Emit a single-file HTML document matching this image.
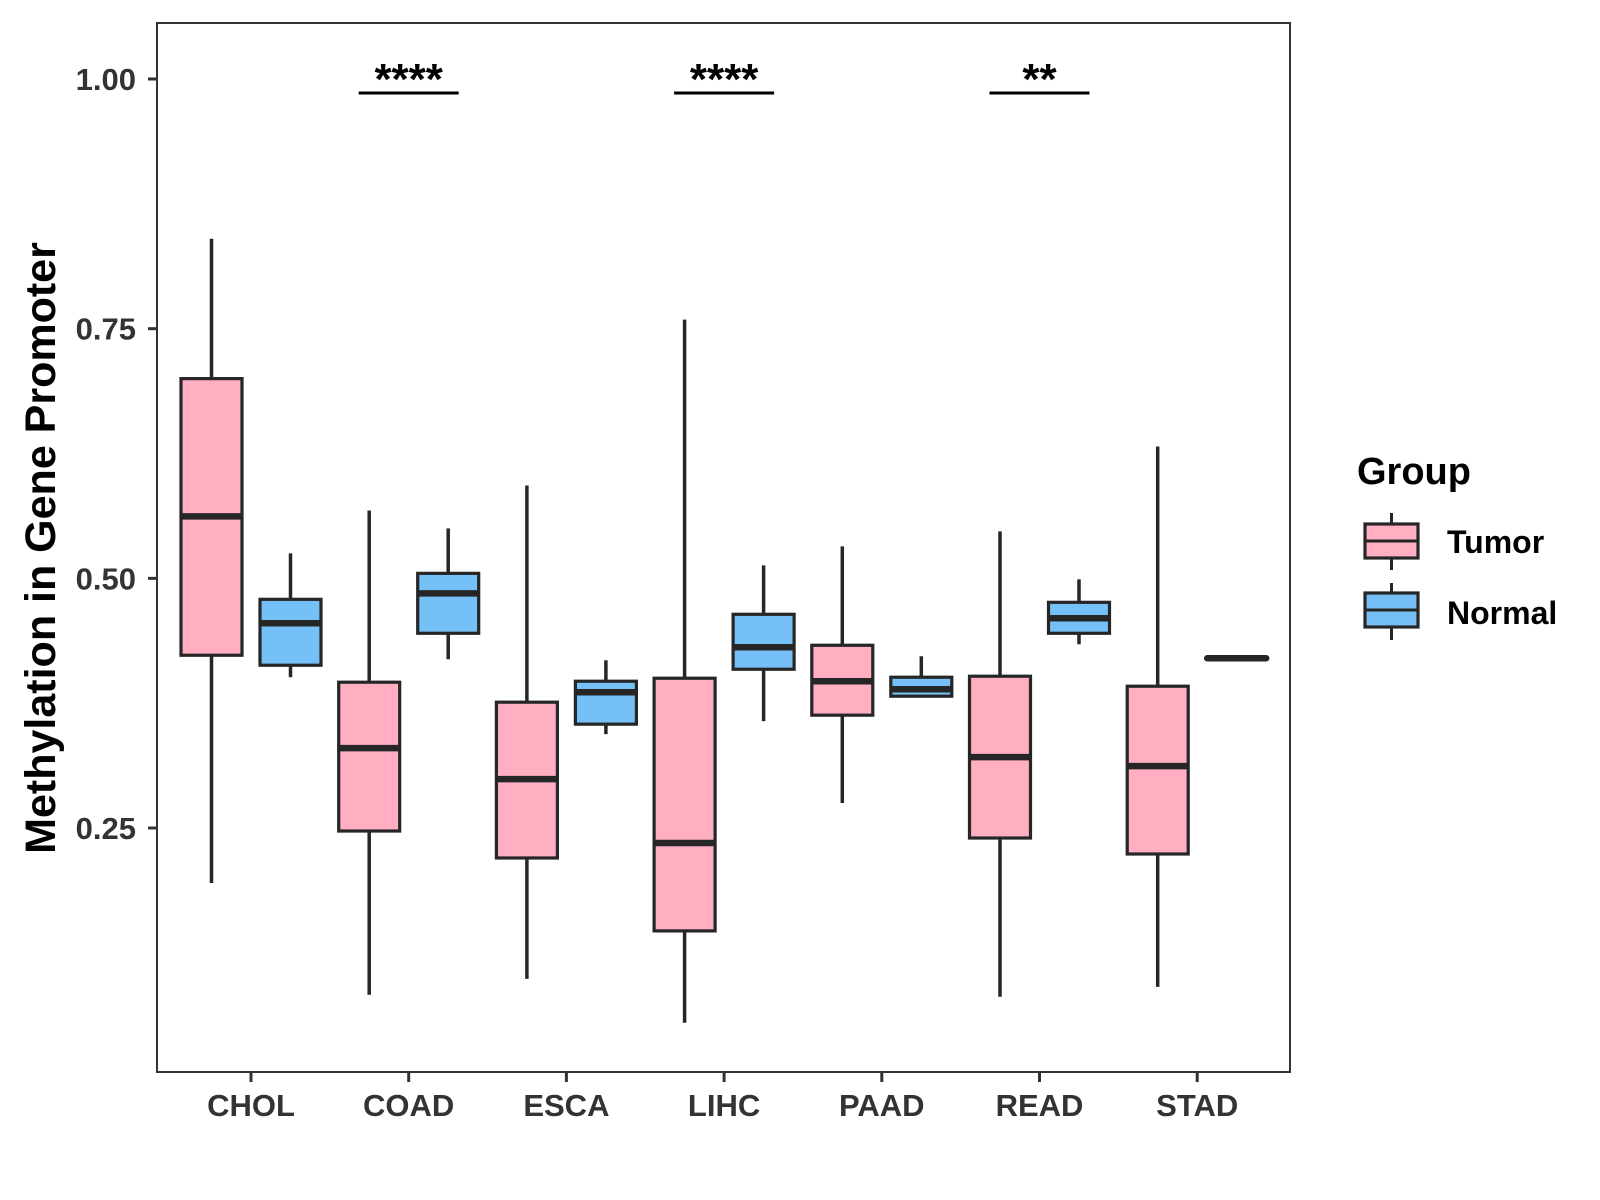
<!DOCTYPE html>
<html><head><meta charset="utf-8"><style>
body{margin:0;background:#fff}
svg{display:block;font-family:"Liberation Sans",Arial,sans-serif}
</style></head><body>
<svg id="chart" width="1600" height="1200" viewBox="0 0 1600 1200">
<rect x="0" y="0" width="1600" height="1200" fill="#fff"/>
<g id="marks"></g>
</svg>
<script>
const categories = ["CHOL","COAD","ESCA","LIHC","PAAD","READ","STAD"];
const tumorLow    = [0.195,0.083,0.099,0.055,0.275,0.081,0.091];
const tumorQ1     = [0.423,0.247,0.220,0.147,0.363,0.240,0.224];
const tumorMedian = [0.562,0.330,0.299,0.235,0.397,0.321,0.312];
const tumorQ3     = [0.700,0.396,0.376,0.400,0.433,0.402,0.392];
const tumorHigh   = [0.840,0.568,0.593,0.759,0.532,0.547,0.632];
const normalLow    = [0.401,0.419,0.344,0.357,0.382,0.434,0.420];
const normalQ1     = [0.413,0.445,0.354,0.409,0.382,0.445,0.420];
const normalMedian = [0.455,0.485,0.386,0.431,0.389,0.460,0.420];
const normalQ3     = [0.479,0.505,0.397,0.464,0.401,0.476,0.420];
const normalHigh   = [0.525,0.550,0.418,0.513,0.422,0.499,0.420];
const yTicks = [0.25,0.50,0.75,1.00];
const yTickLabels = ["0.25","0.50","0.75","1.00"];
const sigCategories = ["COAD","LIHC","READ"];
const sigLabels = ["****","****","**"];
const sigLevel = 0.987;

const L=157,R=1290,T=23,B=1072;
const x0=251, step=157.7;
const xScale = i => x0 + i*step;
const yScale = v => 79 + (1-v)*998.7;
const NS="http://www.w3.org/2000/svg";
const g=document.getElementById("marks");
function mk(tag,attrs,parent){const e=document.createElementNS(NS,tag);for(const k in attrs)e.setAttribute(k,attrs[k]);(parent||g).appendChild(e);return e;}

const panel=mk("rect",{x:L,y:T,width:R-L,height:B-T,fill:"none",stroke:"#333",'stroke-width':2});



yTicks.forEach((v,i)=>{
  const y=yScale(v);
  const t=mk("line",{x1:L-9,x2:L,y1:y,y2:y,stroke:"#333",'stroke-width':3});
  
  
  const tx=mk("text",{x:L-21,y:y+11,'text-anchor':'end','font-size':31,'font-weight':'bold',fill:'#333'});
  tx.textContent=yTickLabels[i];
  
  
});
categories.forEach((c,i)=>{
  const x=xScale(i);
  const t=mk("line",{x1:x,x2:x,y1:B,y2:B+10,stroke:"#333",'stroke-width':3});
  
  
  const tx=mk("text",{x:x,y:1116,'text-anchor':'middle','font-size':31,'font-weight':'bold',fill:'#333'});
  tx.textContent=c;
  
  
});

function box(cx,lo,q1,md,q3,hi,fill,name){
  const w=61;
  const grp=mk("g",{});
  
  
  mk("line",{x1:cx,x2:cx,y1:yScale(hi),y2:yScale(q3),stroke:"#262626",'stroke-width':3.5},grp);
  mk("line",{x1:cx,x2:cx,y1:yScale(q1),y2:yScale(lo),stroke:"#262626",'stroke-width':3.5},grp);
  const h=Math.max(yScale(q1)-yScale(q3),0);
  mk("rect",{x:cx-w/2,y:yScale(q3),width:w,height:h,fill:fill,stroke:"#262626",'stroke-width':3.2},grp);
  mk("line",{x1:cx-w/2+1,x2:cx+w/2-1,y1:yScale(md),y2:yScale(md),stroke:"#262626",'stroke-width':6.5,'stroke-linecap':h<2?'round':'butt'},grp);
}
categories.forEach((c,i)=>{
  box(xScale(i)-39.5,tumorLow[i],tumorQ1[i],tumorMedian[i],tumorQ3[i],tumorHigh[i],"#FFAFC1","box-tumor-"+c.toLowerCase());
  box(xScale(i)+39.5,normalLow[i],normalQ1[i],normalMedian[i],normalQ3[i],normalHigh[i],"#75C1F7","box-normal-"+c.toLowerCase());
});

sigCategories.forEach((c,k)=>{
  const x=xScale(categories.indexOf(c)), y=yScale(sigLevel)+1;
  const ln=mk("line",{x1:x-50,x2:x+50,y1:y,y2:y,stroke:"#000",'stroke-width':3});
  
  
  const tx=mk("text",{x:x,y:y+1,'text-anchor':'middle','font-size':44,'font-weight':'bold',fill:'#000'});
  tx.textContent=sigLabels[k];
  
  
});

const yt=mk("text",{x:0,y:0,transform:"translate(55,548) rotate(-90)",'text-anchor':'middle','font-size':43,'font-weight':'bold',fill:'#000'});
yt.textContent="Methylation in Gene Promoter";



const lg=mk("g",{});


const lt=mk("text",{x:1357,y:484,'font-size':38,'font-weight':'bold',fill:'#000'},lg);
lt.textContent="Group";


[["Tumor","#FFAFC1",524,558,513,570,553],["Normal","#75C1F7",593,627,583,640,624]].forEach(d=>{
  const e=mk("g",{},lg);
  
  
  mk("line",{x1:1391.5,x2:1391.5,y1:d[4],y2:d[5],stroke:"#262626",'stroke-width':3},e);
  mk("rect",{x:1365,y:d[2],width:53,height:d[3]-d[2],fill:d[1],stroke:"#262626",'stroke-width':3.2},e);
  mk("line",{x1:1365,x2:1418,y1:(d[2]+d[3])/2,y2:(d[2]+d[3])/2,stroke:"#262626",'stroke-width':3},e);
  const t=mk("text",{x:1447,y:d[6],'font-size':32,'font-weight':'bold',fill:'#000'},e);
  t.textContent=d[0];
});
</script>
</body></html>
